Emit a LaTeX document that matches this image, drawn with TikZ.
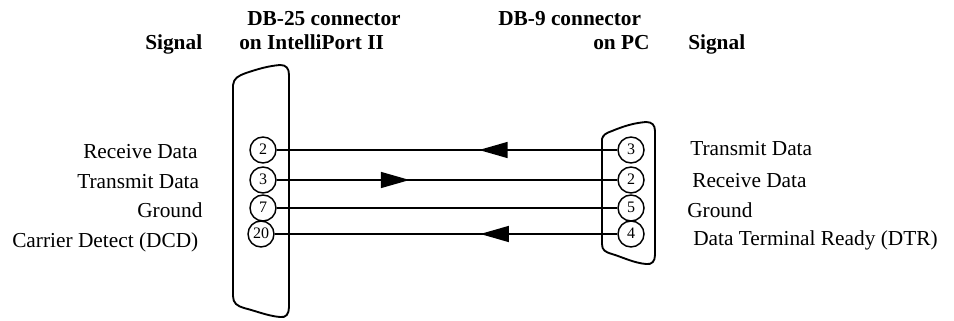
\documentclass[tikz,border=0pt]{standalone}
\usepackage{fontspec}
\setmainfont{Liberation Serif}
\usetikzlibrary{arrows.meta,decorations.markings}
\tikzset{
  x=0.75pt,y=-0.75pt,
  shell/.style={line width=1.4pt,line join=round},
  pin/.style={draw,circle,line width=1.1pt,minimum size=19.5pt,inner sep=0pt,font=\fontsize{12}{13}\selectfont},
  wire/.style={line width=1.1pt},
  lab/.style={inner sep=0pt,anchor=base west,font=\fontsize{16}{18}\selectfont},
  head/.style={inner sep=0pt,anchor=base west,font=\fontsize{16}{18}\selectfont\bfseries},
  tipat/.style={postaction={decorate},decoration={markings,mark=at position #1 with {\arrow{Triangle[length=21.5pt,width=12pt]}}}},
  tipback/.style={postaction={decorate},decoration={markings,mark=at position #1 with {\arrowreversed{Triangle[length=21.5pt,width=12pt]}}}},
}
\newcommand{\pinnum}[1]{\raisebox{1.5pt}{#1}}
\begin{document}
\begin{tikzpicture}
\useasboundingbox (0,0) rectangle (954,321);
% connector shells
\draw[shell] (233,85) .. controls (234,78) and (238,76) .. (246,73) .. controls (258,69) and (268,66) .. (280,65)
  .. controls (286,65) and (289,68) .. (289,75) -- (289,307) .. controls (289,314) and (286,318) .. (280,317)
  .. controls (268,316) and (256,311) .. (244,308) .. controls (237,306) and (233,303) .. (233,296) -- cycle;
\draw[shell] (602,139) .. controls (603,135) and (606,133) .. (612,131) .. controls (624,126) and (634,123) .. (646,122)
  .. controls (652,122) and (655,125) .. (655,131) -- (655,255) .. controls (655,261) and (652,265) .. (646,264)
  .. controls (634,263) and (622,257) .. (612,254) .. controls (605,252) and (602,250) .. (602,244) -- cycle;
% pins
\node[pin] (L2) at (263,150) {\pinnum{2}};
\node[pin] (L3) at (263,180) {\pinnum{3}};
\node[pin] (L7) at (263,208) {\pinnum{7}};
\node[pin] (L20) at (261,234) {\pinnum{20}};
\node[pin] (R3) at (631,150) {\pinnum{3}};
\node[pin] (R2) at (631,180) {\pinnum{2}};
\node[pin] (R5) at (631,208) {\pinnum{5}};
\node[pin] (R4) at (631,234) {\pinnum{4}};
% wires
\draw[wire,tipback=0.594] (L2) -- (R3);
\draw[wire,tipat=0.39] (L3) -- (R2);
\draw[wire] (L7) -- (R5);
\draw[wire,tipback=0.60] (L20) -- (R4);
% headings
\node[head] (h1) at (247,26) {DB-25 connector};
\node[head] (h2) at (239,50) {on IntelliPort II};
\node[head] (h3) at (145,50) {Signal};
\node[head] (h4) at (498,26) {DB-9 connector};
\node[head] (h5) at (593,50) {on PC};
\node[head] (h6) at (688,50) {Signal};
% labels
\node[lab] (a1) at (83,158) {Receive Data};
\node[lab] (a2) at (77,188) {Transmit Data};
\node[lab] (a3) at (137,217) {Ground};
\node[lab] (a4) at (12,247) {Carrier Detect (DCD)};
\node[lab] (b1) at (690,156) {Transmit Data};
\node[lab] (b2) at (692,187) {Receive Data};
\node[lab] (b3) at (687,217) {Ground};
\node[lab] (b4) at (693,245) {Data Terminal Ready (DTR)};
\end{tikzpicture}
\end{document}
